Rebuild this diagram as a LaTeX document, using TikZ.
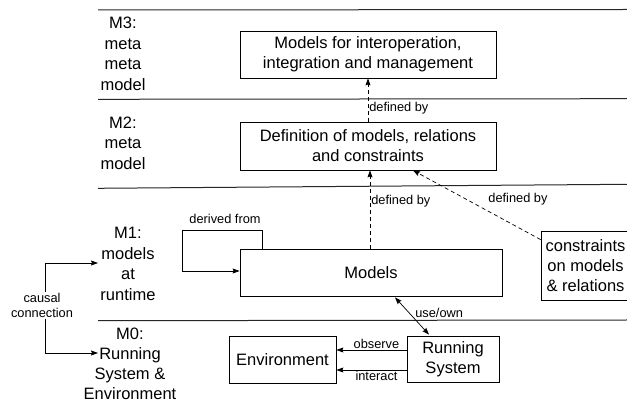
\documentclass[tikz,border=0pt]{standalone}
\usepackage{fontspec}
\setmainfont{Liberation Sans}
\usetikzlibrary{arrows.meta}
\usetikzlibrary{calc,positioning}

\begin{document}
\begin{tikzpicture}[x=1pt,y=-1pt,>={Stealth[length=7pt,width=5pt,inset=1pt]},
 layer/.style={draw=black!85,line width=1pt},
 mbox/.style={draw,line width=0.8pt,align=center,inner sep=0pt,
  font=\fontsize{16.5}{20}\selectfont},
 lvl/.style={align=center,font=\fontsize{16.5}{20.5}\selectfont},
 lbl/.style={font=\fontsize{12.8}{15}\selectfont,inner sep=1pt},
 conn/.style={line width=0.7pt},
 defby/.style={conn,->,dash pattern=on 4pt off 3pt}]
    \useasboundingbox (0,0) rectangle (627,403);
    % Schichtlinien
    \draw[layer] (98,10) -- (627,9.5);
    \draw[layer] (98,99.3) -- (627,98.7);
    \draw[layer] (98,188.3) -- (627,184.3);
    \draw[layer] (98,320.7) -- (627,320);
    % Ebenen links
    \node[lvl] (m3) at (123,54) {M3:\\meta\\meta\\model};
    \node[lvl] (m2) at (123,143) {M2:\\meta\\model};
    \node[lvl] (m1) at (128,264) {M1:\\models\\at\\runtime};
    \node[lvl,font=\fontsize{16.5}{20}\selectfont] (m0) at (130,364) {M0:\\Running\\System \&\\Environment};
    % Kaesten
    \node[mbox,minimum width=256pt,minimum height=47pt] (meta3) at (368,54.5)
        {Models for interoperation,\\integration and management};
    \node[mbox,minimum width=256pt,minimum height=48pt] (meta2) at (368,146)
        {Definition of models, relations\\and constraints};
    \node[mbox,minimum width=262pt,minimum height=47pt] (models) at (371,272.5) {Models};
    \node[mbox,minimum width=89pt,minimum height=69pt] (cons) at (585.5,265.5)
        {constraints\\on models\\\& relations};
    \node[mbox,minimum width=107pt,minimum height=47pt] (env) at (282.5,359.5) {Environment};
    \node[mbox,minimum width=92pt,minimum height=46pt] (rs) at (453,359) {Running\\System};
    % defined by
    \draw[defby] (meta2.north) -- (meta2.north |- meta3.south)
        node[lbl,pos=0.3,right] {defined by};
    \draw[defby] ($(models.north)+(-1,0)$) -- ($(models.north |- meta2.south)+(-1,0)$)
        node[lbl,pos=0.6,right] {defined by};
    \draw[defby] ($(cons.north west)+(0,9)$) -- ($(meta2.south)+(45,0)$)
        node[lbl,pos=0.2,above right,xshift=-28pt,yshift=19pt] {defined by};
    % derived from
    \coordinate (dloop) at (182,230);
    \draw[conn,->] ($(models.north west)+(23,0)$) |- (dloop) |- ($(models.west)+(0,-1.5)$);
    \node[lbl] (dfrom) at (225,219) {derived from};
    % use/own
    \draw[conn,<->] ($(models.south)+(24,1)$) -- ($(rs.north)+(-24,-1)$)
        node[lbl,midway,right,xshift=2pt,yshift=3pt] {use/own};
    % observe / interact
    \draw[conn,->] ($(rs.west)+(0,-9)$) -- ($(env.east)+(0,-9.5)$)
        node[lbl,midway,above,xshift=5pt] {observe};
    \draw[conn,->] ($(rs.west)+(0,11)$) -- ($(env.east)+(0,10.5)$)
        node[lbl,midway,below,xshift=5pt] {interact};
    % causal connection
    \node[lbl,align=center] (causal) at (42,305.5) {causal\\connection};
    \coordinate (c1) at (98,263);
    \coordinate (c0) at (98,353);
    \draw[conn,->] ($(causal.north)+(3,0)$) |- (c1);
    \draw[conn,->] ($(causal.south)+(3,0)$) |- (c0);
\end{tikzpicture}
\end{document}
